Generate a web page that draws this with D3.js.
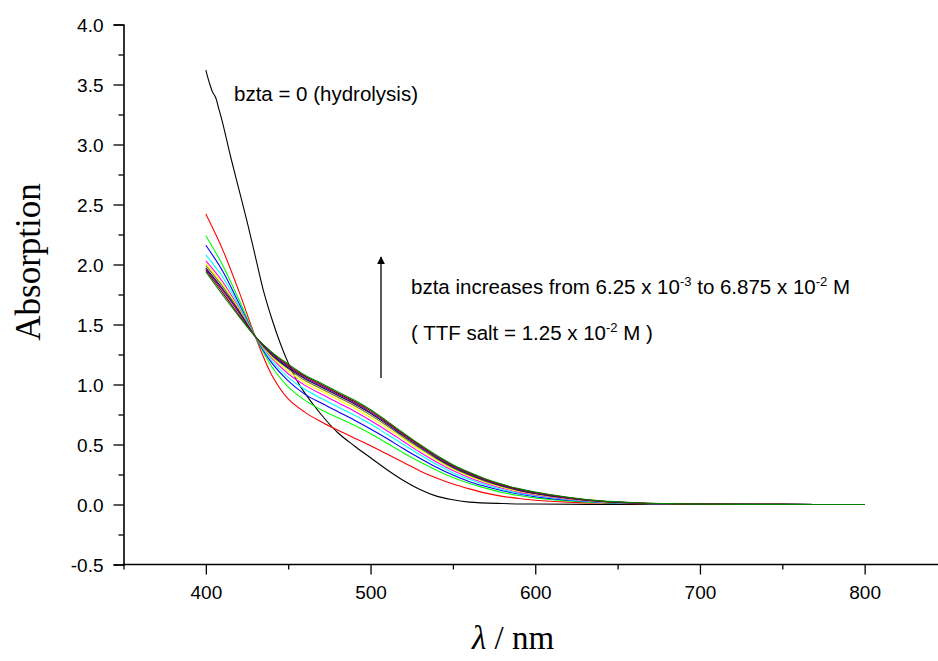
<!DOCTYPE html>
<html><head><meta charset="utf-8">
<script src="https://cdn.jsdelivr.net/npm/d3@7"></script>
<style>body{margin:0;background:#fff}svg{display:block}</style>
</head><body>
<svg id="c" width="938" height="661"></svg>
<script>
const wavelengths=[400,410,420,430,440,450,460,470,480,490,500,510,520,530,540,550,560,570,580,590,600,620,640,660,680,700,750,800];
const seriesNames=["6.25e-3","1.25e-2","1.875e-2","2.5e-2","3.125e-2","3.75e-2","4.375e-2","5.0e-2","5.625e-2","6.25e-2","6.875e-2"];
const seriesColors=["#ff0000","#00ff00","#0000ff","#00ffff","#ff00ff","#ffff00","#808000","#000080","#800080","#800000","#008000"];
const red=[2.42,2.13,1.78,1.40,1.08,0.88,0.77,0.69,0.62,0.555,0.49,0.42,0.35,0.28,0.22,0.17,0.13,0.095,0.068,0.05,0.036,0.02,0.012,0.007,0.004,0.002,0.001,0];
const green=[2.24,2.00,1.71,1.40,1.15,0.98,0.87,0.79,0.725,0.66,0.59,0.51,0.43,0.355,0.285,0.225,0.175,0.135,0.10,0.075,0.055,0.03,0.015,0.008,0.004,0.002,0.001,0];
const blue=[2.16,1.95,1.68,1.40,1.18,1.03,0.92,0.845,0.775,0.705,0.63,0.55,0.465,0.385,0.31,0.245,0.19,0.15,0.115,0.087,0.065,0.035,0.018,0.009,0.005,0.002,0.001,0];
const cyan=[2.08,1.90,1.66,1.40,1.20,1.06,0.96,0.885,0.815,0.745,0.67,0.585,0.50,0.415,0.335,0.265,0.21,0.163,0.125,0.095,0.073,0.04,0.02,0.01,0.005,0.002,0.001,0];
const magenta=[2.03,1.86,1.64,1.40,1.22,1.09,0.995,0.92,0.85,0.78,0.70,0.615,0.525,0.435,0.355,0.283,0.223,0.175,0.135,0.103,0.08,0.045,0.022,0.011,0.005,0.002,0.001,0];
const yellow=[2.01,1.84,1.63,1.40,1.23,1.11,1.015,0.945,0.875,0.805,0.725,0.635,0.545,0.455,0.37,0.295,0.235,0.185,0.143,0.11,0.085,0.048,0.024,0.012,0.006,0.003,0.001,0];
const darkYellow=[1.99,1.82,1.62,1.40,1.24,1.13,1.035,0.965,0.895,0.825,0.745,0.655,0.56,0.468,0.382,0.305,0.243,0.192,0.15,0.115,0.089,0.05,0.025,0.012,0.006,0.003,0.001,0];
const navy=[1.97,1.80,1.61,1.40,1.25,1.14,1.05,0.98,0.91,0.84,0.76,0.668,0.572,0.478,0.39,0.313,0.25,0.198,0.155,0.12,0.093,0.052,0.026,0.013,0.006,0.003,0.001,0];
const purple=[1.96,1.79,1.60,1.40,1.26,1.15,1.06,0.99,0.92,0.85,0.77,0.678,0.58,0.486,0.398,0.32,0.256,0.203,0.16,0.124,0.097,0.055,0.027,0.013,0.006,0.003,0.001,0];
const wine=[1.95,1.77,1.58,1.40,1.265,1.16,1.07,1.0,0.93,0.86,0.78,0.686,0.588,0.493,0.405,0.326,0.262,0.208,0.164,0.128,0.1,0.058,0.028,0.014,0.007,0.003,0.001,0];
const olive=[1.94,1.75,1.57,1.40,1.27,1.17,1.08,1.01,0.94,0.87,0.79,0.695,0.596,0.50,0.41,0.332,0.268,0.213,0.168,0.132,0.104,0.06,0.03,0.015,0.007,0.003,0.001,0];
const blackWl=[400,402,404,406,408,410,415,420,425,430,435,440,445,450,455,460,470,480,490,500,510,520,530,540,550,560,580,600,650,700,800];
const blackAbs=[3.62,3.52,3.44,3.39,3.29,3.19,2.90,2.63,2.36,2.07,1.78,1.55,1.35,1.18,1.04,0.93,0.75,0.60,0.49,0.39,0.29,0.20,0.125,0.07,0.04,0.02,0.008,0.004,0,0,0];
const xTicks=[400,500,600,700,800];
const yTicks=[-0.5,0.0,0.5,1.0,1.5,2.0,2.5,3.0,3.5,4.0];

const series=[red,green,blue,cyan,magenta,yellow,darkYellow,navy,purple,wine,olive];

const svg=d3.select("#c");
const x=d3.scaleLinear().domain([350,850]).range([123.5,947]);
const y=d3.scaleLinear().domain([-0.5,4.0]).range([564.5,24.5]);

const sans="'Liberation Sans', Arial, sans-serif";
const serif="'Liberation Serif', 'Times New Roman', serif";

// curves
const line=d3.line().curve(d3.curveCatmullRom.alpha(0.5));
const g=svg.append("g");
g.append("path").attr("d",line(blackWl.map((w,i)=>[x(w),y(blackAbs[i])])))
 .attr("fill","none").attr("stroke","#000").attr("stroke-width",1.1);
series.forEach((s,k)=>{
  g.append("path").attr("d",line(wavelengths.map((w,i)=>[x(w),y(s[i])])))
   .attr("fill","none").attr("stroke",seriesColors[k]).attr("stroke-width",1.1);
});

// axes
const fmt=d=>{const s=d3.format(".1f")(d);return s.replace("\u2212","-");};
const xAxis=d3.axisBottom(x).tickValues(d3.range(350,851,50)).tickSize(10)
  .tickFormat(d=>xTicks.includes(d)?String(d):"");
const gx=svg.append("g").attr("transform",`translate(0,${y(-0.5)})`).call(xAxis);
gx.selectAll(".tick line").attr("y2",d=>d%100===0?10:5);
const yAxis=d3.axisLeft(y).tickValues(d3.range(-0.5,4.01,0.25)).tickSize(10)
  .tickFormat(d=>{const m=yTicks.find(t=>Math.abs(t-d)<1e-9);return m===undefined?"":fmt(m);});
const gy=svg.append("g").attr("transform",`translate(${x(350)},0)`).call(yAxis);
gy.selectAll(".tick line").attr("x2",d=>(Math.round(d*4)%2===0)?-10:-5);
[gx,gy].forEach(a=>{
  a.select(".domain").attr("stroke-width",1.6).attr("stroke","#000");
  a.selectAll(".tick line").attr("stroke-width",1.3).attr("stroke","#000");
  a.selectAll("text").attr("font-family",sans).attr("font-size",19).attr("fill","#000");
});
gx.select(".domain").attr("d",`M${x(350)},0H${x(850)}`);
gx.selectAll("text").attr("y",34).attr("dy","0");
gy.selectAll("text").attr("x",-20).attr("dy","0.35em");

// axis titles
svg.append("text").attr("transform","translate(40,262) rotate(-90)").attr("text-anchor","middle")
 .attr("font-family",serif).attr("font-size",35).text("Absorption");
const xl=svg.append("text").attr("x",513).attr("y",649).attr("text-anchor","middle")
 .attr("font-family",serif).attr("font-size",33);
xl.append("tspan").attr("font-style","italic").text("λ");
xl.append("tspan").text(" / nm");

// annotations
svg.append("text").attr("x",234).attr("y",101).attr("font-family",sans).attr("font-size",20.5).text("bzta = 0 (hydrolysis)");
const t1=svg.append("text").attr("x",411).attr("y",294).attr("font-family",sans).attr("font-size",20.5);
t1.append("tspan").text("bzta increases from 6.25 x 10");
t1.append("tspan").attr("dy",-8).attr("font-size",13).text("-3");
t1.append("tspan").attr("dy",8).text(" to 6.875 x 10");
t1.append("tspan").attr("dy",-8).attr("font-size",13).text("-2");
t1.append("tspan").attr("dy",8).text(" M");
const t2=svg.append("text").attr("x",411).attr("y",340).attr("font-family",sans).attr("font-size",20.5);
t2.append("tspan").text("( TTF salt = 1.25 x 10");
t2.append("tspan").attr("dy",-8).attr("font-size",13).text("-2");
t2.append("tspan").attr("dy",8).text(" M )");

// arrow
svg.append("defs").append("marker").attr("id","ah").attr("viewBox","0 0 10 10").attr("refX",9).attr("refY",5)
 .attr("markerWidth",8).attr("markerHeight",13).attr("markerUnits","userSpaceOnUse").attr("orient","auto")
 .append("path").attr("d","M0,0L10,5L0,10z").attr("fill","#000");
svg.append("line").attr("x1",381).attr("y1",378).attr("x2",381).attr("y2",257)
 .attr("stroke","#000").attr("stroke-width",1.3).attr("marker-end","url(#ah)");
</script>
</body></html>
